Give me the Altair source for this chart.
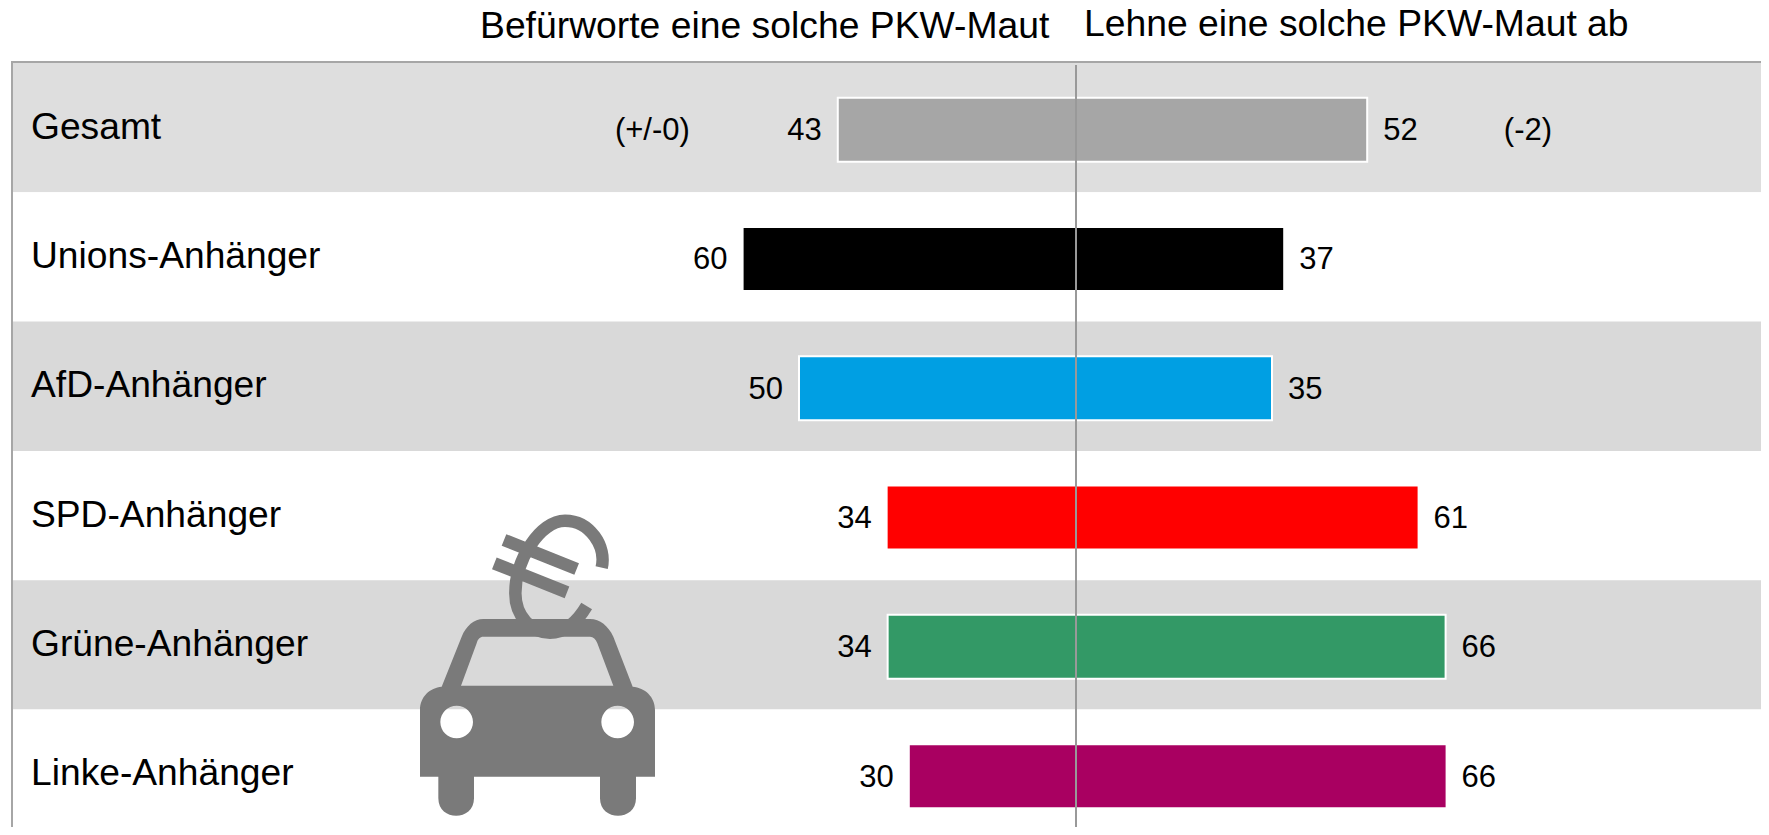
import altair as alt
import pandas as pd

rows = ["Gesamt", "Unions-Anhänger", "AfD-Anhänger", "SPD-Anhänger", "Grüne-Anhänger", "Linke-Anhänger"]
approve = [43, 60, 50, 34, 34, 30]
reject = [52, 37, 35, 61, 66, 66]
bar_colors = ["#A6A6A6", "#000000", "#009FE3", "#FF0000", "#339966", "#A90061"]
row_fills = ["#DEDEDE", "#FFFFFF", "#D9D9D9", "#FFFFFF", "#D9D9D9", "#FFFFFF"]
outlined = [1, 0, 1, 0, 1, 0]
change_rows = ["Gesamt", "Gesamt"]
change_labels = ["(+/-0)", "(-2)"]
change_pos = [-69.7, 76.4]
head_left = "Befürworte eine solche PKW-Maut"
head_right = "Lehne eine solche PKW-Maut ab"

W, H = 1753, 819
FONT = "Liberation Sans"
GREY = "#7A7A7A"

df = pd.DataFrame({"row": rows, "approve": approve, "reject": reject, "color": bar_colors,
                   "fill": row_fills, "outlined": outlined})
df["approve_neg"] = -df["approve"]
df["zero"] = 0
df["bar_h"] = 62 + 2 * df["outlined"]
df["bar_sw"] = 2 * df["outlined"]
changes = pd.DataFrame({"row": change_rows, "label": change_labels, "pos": change_pos})

ZERO_PX, LEFT_K, RIGHT_K = 1068, 5.54, 5.60
xscale = alt.Scale(domain=[-ZERO_PX / LEFT_K, 0, (W - ZERO_PX) / RIGHT_K], range=[0, ZERO_PX, W],
                   nice=False, zero=False)
yscale = alt.Scale(domain=rows, range=[55, 830.8], paddingInner=0, paddingOuter=0)
X = lambda f: alt.X(f, type="quantitative", scale=xscale, axis=None)
Y = alt.Y("row:N", scale=yscale, axis=None, sort=None)

base = alt.Chart(df)
one = alt.Chart(alt.Data(values=[{"a": 1}]))

row_bg = base.mark_rect().encode(y=Y, x=alt.value(5), x2=alt.value(W),
                                 fill=alt.Fill("fill:N", scale=None))


def bars(field):
    return base.mark_bar(yOffset=2, stroke="#FFFFFF").encode(
        y=Y, x=X("zero"), x2=alt.X2(field),
        size=alt.Size("bar_h:Q", scale=None),
        fill=alt.Fill("color:N", scale=None),
        strokeWidth=alt.StrokeWidth("bar_sw:Q", scale=None))


def values(field, txt, align, dx):
    return base.mark_text(font=FONT, fontSize=31, color="#000", align=align, baseline="middle",
                          dx=dx, dy=3.5).encode(y=Y, x=X(field), text=alt.Text(txt, type="nominal"))


border_left = one.mark_rule(color="#A6A6A6", strokeWidth=2).encode(x=alt.value(4), y=alt.value(53), y2=alt.value(H))
border_top = one.mark_rule(color="#A6A6A6", strokeWidth=2).encode(x=alt.value(3), x2=alt.value(W), y=alt.value(54))
center = base.mark_rule(color="#999999", strokeWidth=2).encode(x=X("zero"), y=alt.value(57), y2=alt.value(H))

labels = base.mark_text(font=FONT, fontSize=37.2, color="#000", align="left", baseline="middle").encode(
    y=Y, x=alt.value(23), text="row:N")

chg_l = alt.Chart(changes.iloc[[0]]).mark_text(font=FONT, fontSize=31, color="#000", align="right",
                                               baseline="middle", dy=3.5).encode(y=Y, x=X("pos"), text="label:N")
chg_r = alt.Chart(changes.iloc[[1]]).mark_text(font=FONT, fontSize=31, color="#000", align="left",
                                               baseline="middle", dy=3.5).encode(y=Y, x=X("pos"), text="label:N")


def header(text, x, y, align="left"):
    return alt.Chart(alt.Data(values=[{"t": text}])).mark_text(
        font=FONT, fontSize=37.3, color="#000", align=align, baseline="alphabetic"
    ).encode(x=alt.value(x), y=alt.value(y), text="t:N")


# pictogram: car with euro sign, unit-square symbol paths
CX, CY, K = 412, 500, 500


def P(*pts):
    return " ".join(f"{(px - CX) / K:.4f} {(py - CY) / K:.4f}" for px, py in pts)


def circle(cx, cy, r):
    rr = r / K
    return (f"M{P((cx - r, cy))} A{rr:.4f} {rr:.4f} 0 1 0 {P((cx + r, cy))} "
            f"A{rr:.4f} {rr:.4f} 0 1 0 {P((cx - r, cy))} Z")


car_path = (
    f"M{P((60, 830))} L{P((60, 630))} C{P((60, 590), (90, 563), (125, 560))} "
    f"L{P((185, 410))} C{P((198, 378), (222, 357), (250, 357))} L{P((570, 357))} "
    f"C{P((600, 357), (625, 378), (640, 410))} L{P((698, 560))} C{P((735, 563), (765, 590), (765, 630))} "
    f"L{P((765, 830))} L{P((708, 830))} L{P((708, 895))} C{P((708, 965), (600, 965), (600, 895))} "
    f"L{P((600, 830))} L{P((222, 830))} L{P((222, 895))} C{P((222, 965), (115, 965), (115, 895))} "
    f"L{P((115, 830))} Z "
    f"M{P((183, 557))} L{P((640, 557))} L{P((592, 430))} C{P((587, 417), (580, 410), (570, 410))} "
    f"L{P((250, 410))} C{P((240, 410), (233, 417), (230, 430))} Z "
    + circle(170, 666, 49) + " " + circle(653, 666, 49)
)
euro_path = (
    f"M{P((605, 203))} C{P((620, 140), (570, 62), (495, 62))} C{P((420, 62), (346, 180), (346, 280))} "
    f"C{P((346, 350), (395, 398), (450, 398))} C{P((500, 398), (535, 360), (560, 318))} "
    f"M{P((312, 120))} L{P((530, 207))} M{P((283, 190))} L{P((501, 277))}"
)
sym_size = (2 * K / 3) ** 2
sx, sy = 400 + CX / 3 - 8, 500 + CY / 3 - 8

car = one.mark_point(shape=car_path, size=sym_size, filled=True, fill=GREY, opacity=1, strokeWidth=0).encode(
    x=alt.value(sx), y=alt.value(sy))
euro = one.mark_point(shape=euro_path, size=sym_size, filled=False, fill="transparent", stroke=GREY,
                      strokeWidth=12.5, opacity=1).encode(x=alt.value(sx), y=alt.value(sy))

chart = alt.layer(
    row_bg, border_left, border_top, bars("approve_neg"), bars("reject"), center,
    labels, values("approve_neg", "approve", "right", -16), values("reject", "reject", "left", 16),
    chg_l, chg_r,
    header(head_left, 472, 30), header(head_right, 1076, 28),
    euro, car,
).properties(width=W, height=H, padding=0, background="#FFFFFF",
             autosize=alt.AutoSizeParams(type="none")).configure_view(stroke=None)

chart.save("out.html", embed_options={"renderer": "svg", "actions": False})
